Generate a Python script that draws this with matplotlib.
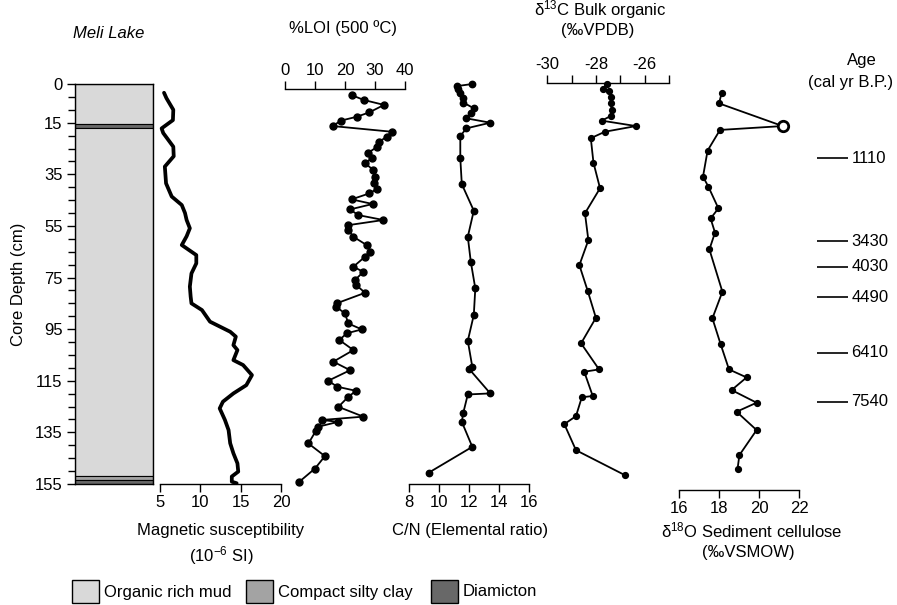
import matplotlib
matplotlib.use('Agg')
import matplotlib.pyplot as plt
from matplotlib.patches import Rectangle
from matplotlib.ticker import MultipleLocator
import numpy as np

plt.rcParams['font.family'] = ['Liberation Sans', 'DejaVu Sans']
plt.rcParams['mathtext.default'] = 'regular'
plt.rcParams['axes.unicode_minus'] = False
plt.rcParams['font.size'] = 12

# lithology of the core (cm)
litho_top = [0, 15.5, 17.2, 152.0, 153.3]
litho_base = [15.5, 17.2, 152.0, 153.3, 155.0]
litho_unit = ['mud', 'diamicton', 'mud', 'clay', 'diamicton']
litho_units = ['mud', 'clay', 'diamicton']
litho_names = ['Organic rich mud', 'Compact silty clay', 'Diamicton']
litho_colors = ['#d9d9d9', '#a3a3a3', '#686868']
depth_ticks = [0, 15, 35, 55, 75, 95, 115, 135, 155]

# magnetic susceptibility (10^-6 SI)
ms_depth = [3.4, 5.5, 10, 14, 17.2, 19, 24.3, 28, 32, 38.5, 43.6, 46.9, 50, 52.7, 55.9,
            59, 62.4, 66.3, 69.5, 73.4, 78.5, 82.4, 85, 87.6, 92.1, 96, 97.9, 101.2, 103.1,
            107, 108.9, 112.8, 116.7, 119.9, 123.1, 125.7, 130.2, 134.1, 139.2, 143.1, 147,
            150.2, 152.1, 154.1, 154.7]
ms_value = [5.5, 5.8, 6.65, 6.6, 5.2, 5.4, 6.65, 6.7, 5.6, 5.75, 6.45, 7.7, 8.1, 8.3, 8.7,
            8.3, 7.7, 9.5, 9.5, 8.9, 8.7, 8.8, 8.9, 10.2, 11.2, 13.7, 14.4, 14.1, 14.6,
            14.1, 15.3, 16.4, 15.7, 14.1, 12.8, 12.4, 13.05, 13.5, 13.7, 14.1, 14.6,
            14.7, 13.9, 13.9, 14.5]

# %LOI
loi_depth = [4.3, 6.2, 8.1, 11, 12.7, 14.2, 16.3, 18.5, 20.4, 22.4, 24.3, 26.6, 28.8, 30.7,
             33.3, 35.9, 38.5, 40.7, 42.4, 44.7, 46.5, 48.6, 50.8, 52.7, 54.7, 56.6, 59.2, 62.4,
             65, 66.9, 70.8, 72.8, 76, 77.9, 80.9, 85, 86.3, 88.9, 92.8, 95.1, 96.6, 99.2,
             103.1, 107.6, 110.9, 115, 117.3, 118.9, 121.2, 125.1, 128.9, 130.2, 130.9, 132.8,
             134.4, 139.3, 144.2, 149, 154.1]
loi_value = [22.2, 26.3, 33, 28.1, 23.9, 18.6, 15.9, 35.6, 33.9, 31.4, 30.8, 27.8, 28.9, 26.7,
             29.4, 30, 29.7, 30.6, 28.1, 22.2, 29.2, 21.7, 24.4, 32.8, 21.1, 21.1, 22.8, 27.2,
             28.3, 26.7, 22.8, 26.1, 23.3, 23.7, 26.7, 17.2, 17, 20, 21.1, 25.6, 20.6, 18.1,
             22.8, 16.1, 21.7, 14.4, 17.4, 23.7, 21.1, 17.8, 26.1, 12.2, 17.8, 11.1,
             10.3, 7.8, 13.3, 10, 4.8]

# C/N
cn_depth = [0, 0.8, 2.1, 3.6, 5.5, 7.2, 9.4, 11.4, 13.3, 15, 17.2, 20.2, 28.8, 38.8,
            49.1, 59.2, 68.9, 79.2, 89.5, 99.5, 109.6, 110.5, 119.9, 120.3, 127.4, 130.9, 140.6, 150.6]
cn_value = [12.2, 11.2, 11.27, 11.4, 11.6, 11.6, 12.3, 12.1, 11.8, 13.4, 11.8, 11.4, 11.4, 11.5,
            12.3, 11.9, 12.1, 12.4, 12.3, 11.9, 12.2, 12.0, 13.4, 11.9, 11.6, 11.5, 12.2, 9.3]

# d13C bulk organic
d13c_depth = [0, 2, 2.6, 4.9, 7.5, 10, 12.4, 14.2, 16.3, 18.5, 21, 30.5, 40.4, 50.1,
              60.5, 70.2, 80.1, 90.6, 100.5, 110.6, 111.5, 120.9, 121.4, 128.7, 131.8, 141.9, 151.6]
d13c_value = [-27.53, -27.72, -27.45, -27.39, -27.39, -27.35, -27.39, -27.76, -26.35, -27.63, -28.21, -28.1, -27.83, -28.45,
              -28.31, -28.68, -28.34, -28.0, -28.61, -27.87, -28.48, -28.13, -28.58, -28.82, -29.3, -28.82, -26.8]

# d18O sediment cellulose
d18o_depth = [3.6, 7.5, 16.3, 17.8, 25.8, 35.9, 39.8, 48.2, 52.1, 57.6, 64.1, 80.5, 90.8,
              100.8, 110.6, 113.7, 118.6, 123.5, 127, 134.1, 143.8, 149]
d18o_value = [18.13, 18.0, 21.18, 18.05, 17.43, 17.2, 17.47, 17.97, 17.58, 17.8, 17.52, 18.17, 17.67,
              18.08, 18.5, 19.38, 18.63, 19.88, 18.88, 19.88, 19.02, 18.93]
d18o_open_idx = [2]

# calibrated ages
age_depth = [28.8, 60.9, 70.8, 82.7, 104.1, 123.1]
age_label = ['1110', '3430', '4030', '4490', '6410', '7540']

W, H = 897, 605
def fx(px):
    return px / W
def fy(py):
    return 1 - py / H
def box(x0, x1):
    return [x0 / W, 1 - 484 / H, (x1 - x0) / W, 400 / H]

fig = plt.figure(figsize=(W / 100, H / 100), dpi=100)

def panel(ax, xlim, xticks, side, pos=None):
    ax.set_facecolor('none')
    ax.set_ylim(155, 0)
    ax.set_xlim(*xlim)
    ax.set_yticks([])
    for s in ['left', 'right', 'top', 'bottom']:
        ax.spines[s].set_visible(s == side)
    ax.spines[side].set_linewidth(1.0)
    if pos is not None:
        ax.spines[side].set_position(pos)
    ax.xaxis.set_ticks_position(side)
    ax.set_xticks(xticks)
    ax.tick_params(axis='x', length=6, width=1.0, pad=2, labelsize=12)

# core column
ax0 = fig.add_axes(box(75, 153))
for t, b, u in zip(litho_top, litho_base, litho_unit):
    ax0.axhspan(t, b, fc=litho_colors[litho_units.index(u)], ec='black', lw=0.8)
ax0.set_xlim(0, 1)
ax0.set_ylim(155, 0)
ax0.set_xticks([])
ax0.set_yticks(depth_ticks)
ax0.yaxis.set_minor_locator(MultipleLocator(5))
ax0.tick_params(axis='y', which='major', length=6, width=1.0, pad=3, labelsize=12)
ax0.tick_params(axis='y', which='minor', length=5, width=1.0)
for s in ax0.spines.values():
    s.set_linewidth(1.0)

# magnetic susceptibility
ax1 = fig.add_axes(box(160, 281))
ax1.plot(ms_value, ms_depth, color='black', lw=2.7, solid_joinstyle='round',
         solid_capstyle='round', clip_on=False)
panel(ax1, (5, 20), [5, 10, 15, 20], 'bottom')

# LOI
ax2 = fig.add_axes(box(285, 405))
ax2.plot(loi_value, loi_depth, color='black', lw=1.3, marker='o', ms=5, clip_on=False)
panel(ax2, (0, 40), [0, 10, 20, 30, 40], 'top', ('data', 2.0))

# C/N
ax3 = fig.add_axes(box(409.3, 529.3))
ax3.plot(cn_value, cn_depth, color='black', lw=1.3, marker='o', ms=4.6, clip_on=False)
panel(ax3, (8, 16), [8, 10, 12, 14, 16], 'bottom')

# d13C
ax4 = fig.add_axes(box(547.3, 668.8))
ax4.plot(d13c_value, d13c_depth, color='black', lw=1.3, marker='o', ms=4.2, clip_on=False)
panel(ax4, (-30, -25), [-30, -28, -26], 'top', ('data', -0.5))
ax4.set_xticks([-29, -27, -25], minor=True)
ax4.tick_params(axis='x', which='minor', length=6, width=1.0)

# d18O
ax5 = fig.add_axes(box(679, 799))
d18o_v = np.array(d18o_value)
d18o_d = np.array(d18o_depth)
filled = np.ones(len(d18o_v), bool)
filled[d18o_open_idx] = False
ax5.plot(d18o_v, d18o_d, color='black', lw=1.3, clip_on=False)
ax5.plot(d18o_v[filled], d18o_d[filled], 'o', color='black', ms=4.2, clip_on=False)
ax5.plot(d18o_v[~filled], d18o_d[~filled], 'o', mfc='white', mec='black', mew=2, ms=7.5,
         clip_on=False)
panel(ax5, (16, 22), [16, 18, 20, 22], 'bottom', ('outward', 4.3))

# age markers
ax6 = fig.add_axes(box(816.7, 848.3))
ax6.set_facecolor('none')
ax6.set_xlim(0, 1)
ax6.set_ylim(155, 0)
ax6.axis('off')
ax6.hlines(age_depth, 0, 1, color='black', lw=1.2)
for d, lab in zip(age_depth, age_label):
    ax6.text(1.1, d, lab, ha='left', va='center', fontsize=12, clip_on=False)

# text
fig.text(fx(73), fy(34), 'Meli Lake', style='italic', ha='left', va='center', fontsize=12)
fig.text(fx(19), fy(284), 'Core Depth (cm)', rotation=90, ha='center', va='center')
fig.text(fx(343), fy(28.5), '%LOI (500 ºC)', ha='center', va='center')
fig.text(fx(600), fy(10), 'δ$^{13}$C Bulk organic', ha='center', va='center')
fig.text(fx(598), fy(31), '(‰VPDB)', ha='center', va='center')
fig.text(fx(862), fy(61), 'Age', ha='center', va='center')
fig.text(fx(851), fy(82), '(cal yr B.P.)', ha='center', va='center')
fig.text(fx(221), fy(530), 'Magnetic susceptibility', ha='center', va='center')
fig.text(fx(221), fy(556), '(10$^{-6}$ SI)', ha='center', va='center')
fig.text(fx(470), fy(530), 'C/N (Elemental ratio)', ha='center', va='center')
fig.text(fx(752), fy(530), 'δ$^{18}$O Sediment cellulose', ha='center', va='center')
fig.text(fx(748), fy(552), '(‰VSMOW)', ha='center', va='center')

# lithology legend
leg_box_x = [72, 246, 431]
for bx, name, col in zip(leg_box_x, litho_names, litho_colors):
    fig.patches.append(Rectangle((fx(bx), fy(603)), 27 / W, 23 / H, transform=fig.transFigure,
                                 fc=col, ec='black', lw=1.0))
    fig.text(fx(bx + 32), fy(592), name, ha='left', va='center')

fig.savefig('out.png', dpi=100)
